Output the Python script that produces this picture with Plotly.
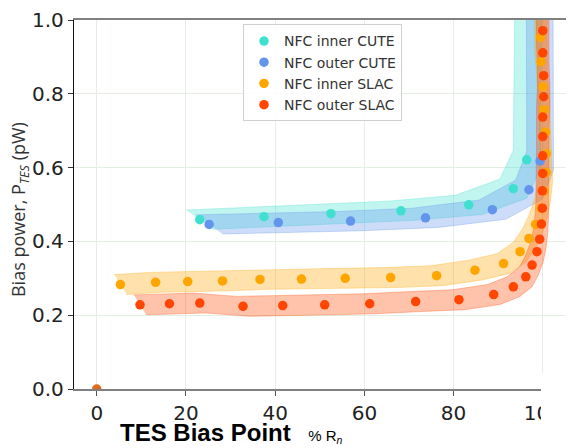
import plotly.graph_objects as go

# ---------------- data ----------------
cute_inner_x = [23.1, 37.5, 52.5, 68.2, 83.4, 93.4, 96.4, 96.8]
cute_inner_y = [0.459, 0.467, 0.475, 0.483, 0.499, 0.543, 0.621, 1.12]

cute_outer_x = [25.2, 40.7, 56.9, 73.7, 88.7, 96.9, 99.4, 99.3]
cute_outer_y = [0.446, 0.451, 0.455, 0.464, 0.486, 0.540, 0.618, 1.12]

slac_inner_x = [5.3, 13.2, 20.4, 28.2, 36.6, 45.9, 55.7, 65.9, 76.2, 84.8, 91.2,
                94.9, 96.9, 98.4, 99.6, 100.3, 100.8, 100.8, 100.6, 100.3, 100.1,
                99.6, 99.5, 99.5]
slac_inner_y = [0.283, 0.289, 0.291, 0.293, 0.297, 0.298, 0.300, 0.302, 0.307,
                0.322, 0.340, 0.372, 0.408, 0.446, 0.490, 0.536, 0.587, 0.638,
                0.696, 0.757, 0.819, 0.887, 0.953, 1.05]

slac_outer_x = [9.7, 16.3, 23.1, 32.8, 41.7, 51.1, 61.2, 71.5, 81.2, 89.0, 93.4,
                96.2, 97.6, 98.7, 99.3, 99.7, 99.9, 99.9, 100.0, 100.0, 100.0,
                100.0, 100.2, 100.2, 100.0, 100.0, 100.0]
slac_outer_y = [0.228, 0.231, 0.233, 0.224, 0.226, 0.228, 0.231, 0.237, 0.242,
                0.256, 0.277, 0.304, 0.336, 0.372, 0.406, 0.447, 0.490, 0.537,
                0.584, 0.632, 0.684, 0.737, 0.792, 0.849, 0.911, 0.971, 1.04]

origin_x = [0]
origin_y = [0]

# uncertainty half-widths of the shaded bands (x in % Rn, y in pW)
cute_err_x, cute_err_y = 3.0, 0.026
slac_err_x, slac_err_y = 1.4, 0.027

series_names = ["NFC inner CUTE", "NFC outer CUTE", "NFC inner SLAC", "NFC outer SLAC"]
x_ticks = [0, 20, 40, 60, 80, 100]
y_ticks = [0.0, 0.2, 0.4, 0.6, 0.8, 1.0]

# ---------------- figure ----------------
series = [
    (cute_inner_x, cute_inner_y, cute_err_x, cute_err_y, (64, 224, 208)),
    (cute_outer_x, cute_outer_y, cute_err_x, cute_err_y, (100, 149, 237)),
    (slac_inner_x, slac_inner_y, slac_err_x, slac_err_y, (255, 165, 0)),
    (slac_outer_x, slac_outer_y, slac_err_x, slac_err_y, (255, 69, 0)),
]

fig = go.Figure()

for xs, ys, ex, ey, c in series:
    up_x = [x - ex for x in xs]
    up_y = [y + ey for y in ys]
    lo_x = [x + ex for x in xs][::-1]
    lo_y = [y - ey for y in ys][::-1]
    fig.add_trace(go.Scatter(
        x=up_x + lo_x, y=up_y + lo_y, mode="lines", fill="toself",
        fillcolor=f"rgba({c[0]},{c[1]},{c[2]},0.33)",
        line=dict(color=f"rgba({c[0]},{c[1]},{c[2]},0.30)", width=1),
        hoverinfo="skip", showlegend=False))

for (xs, ys, ex, ey, c), name in zip(series, series_names):
    fig.add_trace(go.Scatter(
        x=xs, y=ys, mode="markers", name=name,
        marker=dict(color=f"rgb({c[0]},{c[1]},{c[2]})", size=9.5, line=dict(width=0))))

fig.add_trace(go.Scatter(x=origin_x, y=origin_y, mode="markers", showlegend=False,
                         marker=dict(color="#e06a1c", size=9.5, line=dict(width=0))))

fig.update_layout(
    width=566, height=440,
    margin=dict(l=66, r=0, t=7, b=59),
    paper_bgcolor="white", plot_bgcolor="white",
    font=dict(family="DejaVu Sans", color="#222222"),
    legend=dict(
        x=0.338, y=0.988, xanchor="left", yanchor="top",
        bgcolor="rgba(255,255,255,0.85)", bordercolor="#d0d0d0", borderwidth=1,
        font=dict(family="DejaVu Sans", size=14, color="#333333"),
    ),
    xaxis=dict(
        range=[-5.1, 107.0], tickvals=x_ticks, ticktext=[str(v) for v in x_ticks],
        showgrid=True, gridcolor="#e3efe3", gridwidth=1, zeroline=False,
        showline=True, linecolor="#808080", linewidth=1.5, mirror=True,
        ticks="outside", ticklen=5, tickcolor="#555555",
        ticklabeloverflow="allow",
        tickfont=dict(family="DejaVu Sans", size=20, color="#222222"),
    ),
    yaxis=dict(
        range=[0, 1.0], tickvals=y_ticks, ticktext=[f"{v:.1f}" for v in y_ticks],
        showgrid=True, gridcolor="#e3efe3", gridwidth=1, zeroline=False,
        showline=True, linecolor="#111111", linewidth=1.3,
        ticks="outside", ticklen=5, tickcolor="#333333",
        ticklabeloverflow="allow",
        tickfont=dict(family="DejaVu Sans", size=20, color="#222222"),
    ),
    shapes=[dict(type="rect", xref="paper", yref="paper", x0=0.934, x1=1.01,
                 y0=-0.25, y1=0.043, fillcolor="white", line=dict(width=0),
                 layer="above")],
    annotations=[
        dict(xref="paper", yref="paper", x=0.088, y=-0.118, xanchor="left", yanchor="middle",
             showarrow=False,
             text=("<b>TES Bias Point</b>&nbsp;&nbsp;"
                   "<span style='font-size:15px'>&nbsp;% R<sub><i>n</i></sub></span>"),
             font=dict(family="Liberation Sans", size=24, color="black")),
        dict(xref="paper", yref="paper", x=-0.11, y=0.485, xanchor="center", yanchor="middle",
             showarrow=False, textangle=-90,
             text="Bias power, P<sub><i>TES</i></sub> (pW)",
             font=dict(family="Open Sans", size=18, color="#333333")),
    ],
)

fig.write_html("out.html")
